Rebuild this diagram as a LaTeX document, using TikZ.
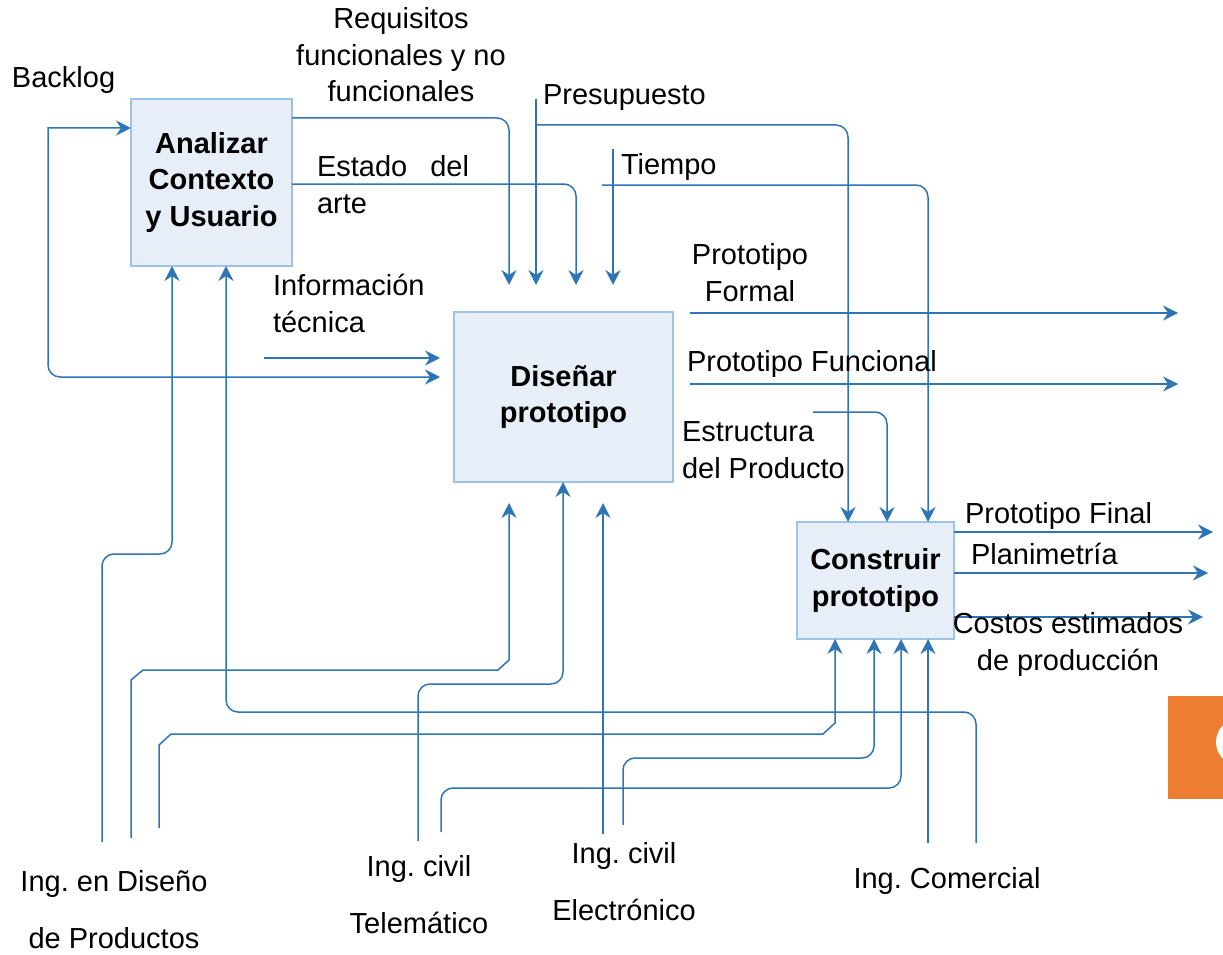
\documentclass[tikz,border=0pt]{standalone}
\usepackage{fontspec}
\setmainfont{Liberation Sans}
\usetikzlibrary{arrows.meta}
\definecolor{lc}{RGB}{46,117,182}
\definecolor{boxfill}{RGB}{232,238,248}
\definecolor{boxline}{RGB}{157,195,230}
\definecolor{orng}{RGB}{237,125,49}
\frenchspacing
\begin{document}
\begin{tikzpicture}[x=1pt,y=-1pt,
  every node/.style={inner sep=0pt, outer sep=0pt, font=\fontsize{29}{36.5}\selectfont},
  box/.style={draw=boxline, fill=boxfill, line width=1.5pt, align=center,
    font=\fontsize{29}{36.5}\selectfont\bfseries},
  tip/.style={-{Stealth[length=15pt,width=15pt,inset=5pt]}},
  wire/.style={draw=lc, line width=1.5pt},
  flow/.style={wire, tip},
  rc/.style={rounded corners=12pt},
  lblw/.style={anchor=base west, align=left},
  lblc/.style={anchor=base, align=center},
  wide/.style={font=\fontsize{29}{57}\selectfont}
]
\useasboundingbox (0,0) rectangle (1223,955);

% orange fragment at right edge
\begin{scope}
  \clip (0,0) rectangle (1223,955);
  \fill[orng] (1168,696) rectangle (1240,799);
  \fill[white] (1234,742) ellipse [x radius=18pt, y radius=21pt];
\end{scope}

% boxes
\node[box, minimum width=161pt, minimum height=167pt] (A) at (211.5,182.5) {Analizar\\Contexto\\y Usuario};
\node[box, minimum width=219pt, minimum height=170pt] (D) at (563.5,397) {Diseñar\\prototipo};
\node[box, minimum width=157pt, minimum height=117pt] (C) at (875.5,580.5) {Construir\\prototipo};

% coordinates
\coordinate (bkD) at (440,377);
\coordinate (bkL) at (48,377);
\coordinate (bkT) at (48,128);
\coordinate (info0) at (264,358);
\coordinate (info1) at (440,358);
\coordinate (reqK) at (509,118);
\coordinate (req) at (509,285);
\coordinate (estK) at (576,184);
\coordinate (est) at (576,285);
\coordinate (pre0) at (536,99);
\coordinate (pre) at (536,285);
\coordinate (preH) at (536,125);
\coordinate (preK) at (848,125);
\coordinate (tie0) at (613,149);
\coordinate (tie) at (613,285);
\coordinate (tieH) at (602,185);
\coordinate (tieK) at (928,185);
\coordinate (pf0) at (690,313);
\coordinate (pf1) at (1178,313);
\coordinate (pfu0) at (690,384);
\coordinate (pfu1) at (1178,384);
\coordinate (es0) at (813,412);
\coordinate (esK) at (887,412);
\coordinate (fin) at (1213,532);
\coordinate (pla) at (1208,573);
\coordinate (cos) at (1203,617);
% bottom inputs
\coordinate (d1b) at (102,842);
\coordinate (d1a) at (102,554);
\coordinate (d1c) at (172,554);
\coordinate (d2b) at (131,838);
\coordinate (d2a) at (131,680);
\coordinate (d2c) at (143,670);
\coordinate (d2d) at (498,670);
\coordinate (d2e) at (509,660);
\coordinate (d2t) at (509,503);
\coordinate (d3b) at (159,828);
\coordinate (d3a) at (159,745);
\coordinate (d3c) at (171,734);
\coordinate (d3d) at (823,734);
\coordinate (d3e) at (835,723);
\coordinate (t1b) at (418,841);
\coordinate (t1a) at (418,684);
\coordinate (t1c) at (563,684);
\coordinate (t2b) at (441,832);
\coordinate (t2a) at (441,788);
\coordinate (t2c) at (901,788);
\coordinate (e1b) at (603,834);
\coordinate (e1t) at (603,503);
\coordinate (e2b) at (623,825);
\coordinate (e2a) at (623,758);
\coordinate (e2c) at (874,758);
\coordinate (c1b) at (928,843);
\coordinate (c2b) at (976,843);
\coordinate (c2a) at (976,712);
\coordinate (c2c) at (226,712);

% connectors
\draw[wire, {Stealth[length=15pt,width=15pt,inset=5pt]}-{Stealth[length=15pt,width=15pt,inset=5pt]}]
  (bkD) [rounded corners=12pt] -- (bkL) [sharp corners] -- (bkT) -- (A.west |- bkT);
\draw[flow] (info0) -- (info1);
\draw[flow, rc] (A.east |- reqK) -- (reqK) -- (req);
\draw[flow, rc] (A.east |- estK) -- (estK) -- (est);
\draw[flow] (pre0) -- (pre);
\draw[flow, rc] (preH) -- (preK) -- (C.north -| preK);
\draw[flow] (tie0) -- (tie);
\draw[flow, rc] (tieH) -- (tieK) -- (C.north -| tieK);
\draw[flow] (pf0) -- (pf1);
\draw[flow] (pfu0) -- (pfu1);
\draw[flow, rc] (es0) -- (esK) -- (C.north -| esK);
\draw[flow] (C.east |- fin) -- (fin);
\draw[flow] (C.east |- pla) -- (pla);
\draw[flow] (C.east |- cos) -- (cos);

\draw[flow, rc] (d1b) -- (d1a) -- (d1c) -- (A.south -| d1c);
\draw[flow] (d2b) -- (d2a) -- (d2c) -- (d2d) -- (d2e) -- (d2t);
\draw[flow] (d3b) -- (d3a) -- (d3c) -- (d3d) -- (d3e) -- (C.south -| d3e);
\draw[flow, rc] (t1b) -- (t1a) -- (t1c) -- (D.south -| t1c);
\draw[flow, rc] (t2b) -- (t2a) -- (t2c) -- (C.south -| t2c);
\draw[flow] (e1b) -- (e1t);
\draw[flow, rc] (e2b) -- (e2a) -- (e2c) -- (C.south -| e2c);
\draw[flow] (c1b) -- (C.south -| c1b);
\draw[flow, rc] (c2b) -- (c2a) -- (c2c) -- (A.south -| c2c);

% labels (multi-line nodes are placed by the baseline of their last line)
\node[lblw] (tBack) at (12,88) {Backlog};
\node[lblc] (tReq) at (401,102) {Requisitos\\funcionales y no\\funcionales};
\node[lblw] (tPre) at (543,105) {Presupuesto};
\node[lblw] (tEst) at (317,213) {\makebox[152pt][s]{Estado del}\\arte};
\node[lblw] (tTie) at (621,175) {Tiempo};
\node[lblw] (tInf) at (273,332) {Información\\técnica};
\node[lblc] (tPF) at (750,301) {Prototipo\\Formal};
\node[lblw] (tPFu) at (687,371) {Prototipo Funcional};
\node[lblw] (tEs) at (682,478) {Estructura\\del Producto};
\node[lblw] (tFin) at (965,523) {Prototipo Final};
\node[lblw] (tPla) at (971,564) {Planimetría};
\node[lblc] (tCos) at (1068,670) {Costos estimados\\de producción};
\node[lblc, wide] (tDis) at (114,948) {Ing. en Diseño\\de Productos};
\node[lblc, wide] (tTel) at (419,933) {Ing. civil\\Telemático};
\node[lblc, wide] (tEle) at (624,920) {Ing. civil\\Electrónico};
\node[lblc] (tCom) at (947,888) {Ing. Comercial};
\end{tikzpicture}
\end{document}
